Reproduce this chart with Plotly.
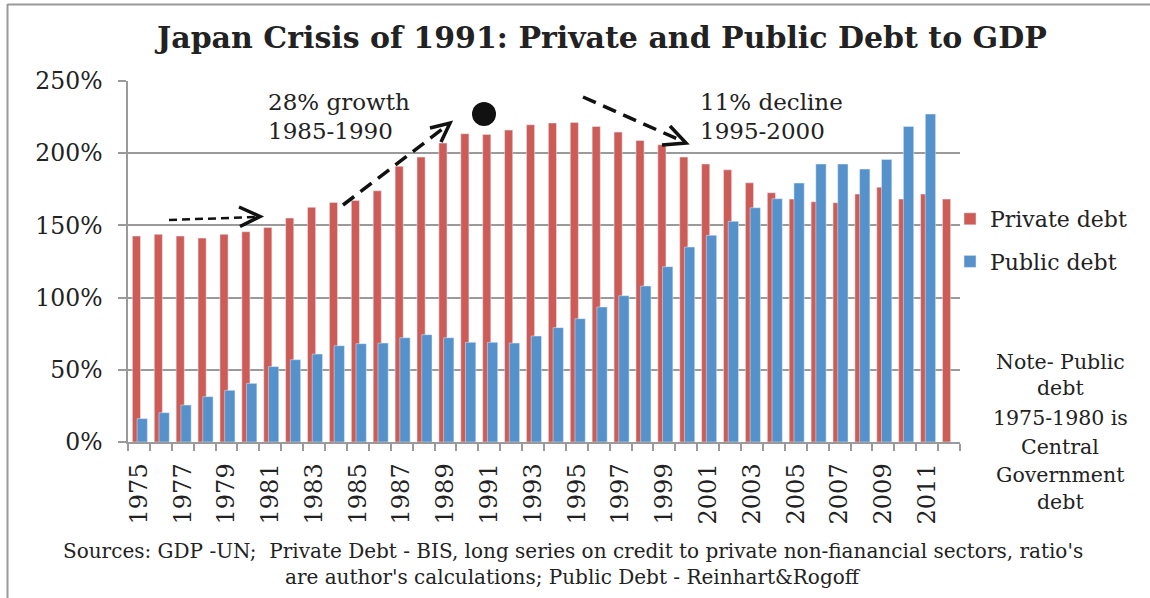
import plotly.graph_objects as go

years = list(range(1975, 2013))
private_debt = [142.6, 143.8, 142.6, 141.2, 143.8, 145.6, 148.6, 155.1, 162.5, 165.9,
                167.3, 174.0, 190.9, 197.3, 207.0, 213.5, 213.0, 216.0, 219.7, 220.9,
                221.3, 218.5, 214.6, 208.8, 205.9, 197.3, 192.5, 188.5, 179.5, 172.6,
                168.2, 166.4, 165.7, 171.7, 176.5, 168.2, 171.7, 168.2]
public_debt = [16.2, 20.3, 25.6, 31.4, 35.8, 40.6, 52.2, 57.0, 60.9, 66.7,
               68.1, 68.5, 72.2, 74.3, 72.2, 69.0, 69.0, 68.5, 73.4, 79.2,
               85.4, 93.5, 101.3, 108.0, 121.4, 135.0, 143.1, 152.8, 162.2, 168.5,
               179.3, 192.5, 192.5, 189.0, 195.7, 218.5, 227.1, None]
y_ticks = [0, 50, 100, 150, 200, 250]
y_tick_labels = ["0%", "50%", "100%", "150%", "200%", "250%"]
x_tick_years = list(range(1975, 2012, 2))
note_lines = ["Note- Public", "debt", "1975-1980 is", "Central", "Government", "debt"]

FONT = "DejaVu Serif"
W, H = 1150, 598
# plot area in pixels
L, R, T, B = 128, 960, 81, 442

def px(x):
    return (x - L) / (R - L)

def py(y):
    return (B - y) / (B - T)

RED = "#CD5C57"
BLUE = "#5591CA"
TXT = "#222222"
GRID = "#9a9a9a"

fig = go.Figure()
fig.add_trace(go.Bar(x=years, y=private_debt, name="Private debt", marker_color=RED,
                     width=0.37, offset=-0.30, legendgroup="a"))
fig.add_trace(go.Bar(x=years, y=public_debt, name="Public debt", marker_color=BLUE,
                     width=0.47, offset=-0.085, legendgroup="b"))

shapes = []
# chart border (left and top edges visible in the picture)
shapes.append(dict(type="line", xref="paper", yref="paper", x0=px(7.5), x1=px(7.5),
                   y0=py(4), y1=py(598), line=dict(color=GRID, width=2)))
shapes.append(dict(type="line", xref="paper", yref="paper", x0=px(7.5), x1=px(1150),
                   y0=py(4.5), y1=py(4.5), line=dict(color=GRID, width=2)))

def dashed(x0, y0, x1, y1, w, dash):
    shapes.append(dict(type="line", xref="paper", yref="paper", x0=px(x0), y0=py(y0),
                       x1=px(x1), y1=py(y1), line=dict(color="#111111", width=w, dash=dash)))

def chevron(ax, ay, tx, ty, bx, by, w):
    shapes.append(dict(type="path", xref="paper", yref="paper",
                       path=f"M {px(ax)},{py(ay)} L {px(tx)},{py(ty)} L {px(bx)},{py(by)}",
                       line=dict(color="#111111", width=w)))

dashed(169, 220, 257, 217, 2.5, "8px,5px")
chevron(239, 207, 260, 216.5, 240, 226.5, 3.5)
dashed(343, 205, 445, 127, 3.5, "14px,8px")
chevron(430, 128, 450, 123, 441, 142, 3.5)
dashed(583, 97, 682, 141, 3.5, "14px,8px")
chevron(670, 126, 686, 143, 662, 145, 3.5)
shapes.append(dict(type="circle", xref="paper", yref="paper", x0=px(472), x1=px(496),
                   y0=py(102), y1=py(126), fillcolor="#111111", line=dict(width=0)))

def ann(text, x, y, size, xanchor="center", align="center"):
    return dict(text=text, x=px(x), y=py(y), align=align,
                font=dict(family=FONT, size=size, color=TXT), showarrow=False,
                xanchor=xanchor, yanchor="middle", xref="paper", yref="paper")

annotations = [
    ann("<b>Japan Crisis of 1991: Private and Public Debt to GDP</b>", 600, 37, 30),
    ann("28% growth", 266, 102, 23, "left", "left"),
    ann("1985-1990", 266, 131, 23, "left", "left"),
    ann("11% decline", 698, 102, 23, "left", "left"),
    ann("1995-2000", 698, 131, 23, "left", "left"),
    ann("Sources: GDP -UN;\u00a0\u00a0Private Debt - BIS, long series on credit to private non-fianancial sectors, ratio's",
        573, 551, 20),
    ann("are author's calculations; Public Debt - Reinhart&amp;Rogoff", 573, 577, 20),
]
note_y = [362, 388, 418, 447, 475, 502]
for t, yy in zip(note_lines, note_y):
    annotations.append(ann(t, 1060, yy, 20.5))

fig.update_layout(
    width=W, height=H,
    margin=dict(l=L, r=W - R, t=T, b=H - B, pad=0),
    paper_bgcolor="white", plot_bgcolor="white",
    barmode="overlay",
    showlegend=True,
    legend=dict(x=px(950), y=py(198), xanchor="left", yanchor="top",
                font=dict(family=FONT, size=22, color=TXT),
                traceorder="grouped", tracegroupgap=11, bgcolor="rgba(0,0,0,0)"),
    shapes=shapes,
    annotations=annotations,
    font=dict(family=FONT, color=TXT),
)
fig.update_xaxes(
    range=[1974.5, 2012.5], tickmode="array", tickvals=x_tick_years,
    ticktext=[str(y) for y in x_tick_years], tickangle=-90,
    tickfont=dict(family=FONT, size=24, color=TXT),
    ticks="", showgrid=False, showline=True, linecolor=GRID, linewidth=1.5,
    ticklabelstandoff=10,
    minor=dict(tickmode="linear", tick0=1974.5, dtick=1, ticks="outside",
               ticklen=7, tickcolor=GRID, tickwidth=1.5, showgrid=False),
)
fig.update_yaxes(
    range=[0, 250], tickmode="array", tickvals=y_ticks, ticktext=y_tick_labels,
    tickfont=dict(family=FONT, size=23.5, color=TXT),
    ticks="outside", ticklen=8, tickcolor=GRID, tickwidth=1.5,
    showgrid=True, gridcolor=GRID, gridwidth=1.5,
    showline=True, linecolor=GRID, linewidth=1.5,
    ticklabelstandoff=11, zeroline=False,
)

# remove the browser's default 8px body margin so the figure sits at the page origin
fig.write_html("out.html", config={"displayModeBar": False},
               post_script="document.body.style.margin='0';")
